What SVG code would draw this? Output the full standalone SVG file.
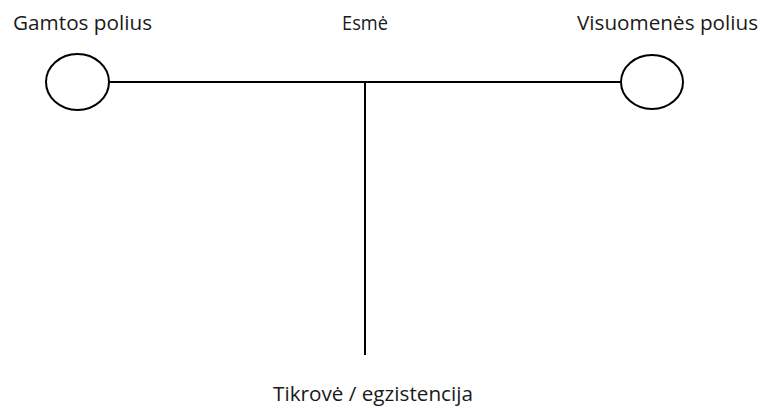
<svg xmlns="http://www.w3.org/2000/svg" width="760" height="408" viewBox="0 0 760 408">
<style>
.lbl{font-family:"Open Sans","Liberation Sans",sans-serif;font-size:20px;fill:#1a1a1a}
.pole{fill:#fff;stroke:#000;stroke-width:2}
.conn{stroke:#000;stroke-width:2;fill:none}
</style>
<rect width="760" height="408" fill="#fff"/>
<g id="connectors">
<line class="conn" x1="109" y1="82" x2="621" y2="82"/>
<line class="conn" x1="365" y1="82" x2="365" y2="355"/>
</g>
<g id="gamtos">
<ellipse class="pole" cx="77.5" cy="82" rx="31.5" ry="28"/>
<text class="lbl" x="13" y="30" textLength="139" lengthAdjust="spacingAndGlyphs">Gamtos polius</text>
</g>
<g id="visuomenes">
<ellipse class="pole" cx="652" cy="82" rx="31" ry="27"/>
<text class="lbl" x="577" y="30" textLength="181" lengthAdjust="spacingAndGlyphs">Visuomenės polius</text>
</g>
<g id="esme">
<text class="lbl" x="342" y="30" textLength="46" lengthAdjust="spacingAndGlyphs">Esmė</text>
</g>
<g id="tikrove">
<text class="lbl" x="273" y="401" textLength="200" lengthAdjust="spacingAndGlyphs">Tikrovė / egzistencija</text>
</g>
</svg>
